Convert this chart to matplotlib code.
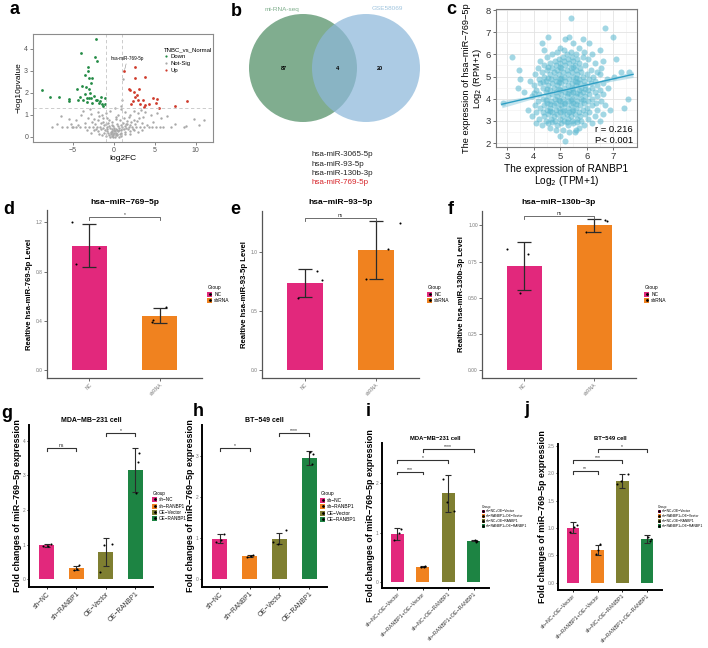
import matplotlib

matplotlib.use("Agg")
import matplotlib.pyplot as plt
import numpy as np
from matplotlib.lines import Line2D
from matplotlib.patches import Circle, Patch
from matplotlib.ticker import MultipleLocator

plt.rcParams["font.family"] = ["Liberation Sans", "DejaVu Sans"]

W, H = 708, 648

# ---------------- a: volcano ----------------
DOWN_X = [-2.24, -3.98, -2.33, -2.13, -3.2, -3.17, -3.54, -3.1, -2.7, -2.8, -4.55, -3.94,
          -3.4, -3.0, -8.74, -7.84, -6.67, -5.49, -5.45, -4.43, -3.74, -3.25, -3.0, -2.85,
          -2.44, -2.07, -1.71, -1.5, -1.13, -1.1, -1.58, -2.72, -3.33, -4.15, -3.54, -2.93,
          -2.24, -1.83, -1.34]
DOWN_Y = [4.45, 3.83, 3.62, 3.45, 3.19, 3.0, 2.82, 2.7, 2.67, 2.45, 2.17, 2.3, 2.25, 2.2,
          2.14, 1.8, 1.82, 1.65, 1.72, 1.7, 1.7, 1.76, 1.78, 1.79, 1.85, 1.68, 1.62, 1.5,
          1.5, 1.76, 1.81, 1.53, 1.6, 1.82, 1.95, 2.0, 1.7, 1.53, 1.4]
UP_X = [1.26, 2.56, 3.78, 2.56, 1.87, 1.95, 3.09, 2.48, 2.76, 2.56, 2.28, 2.97, 3.5, 4.72,
        5.3, 5.1, 4.28, 3.7, 3.78, 5.5, 7.4, 8.94, 2.02, 3.2]
UP_Y = [3.0, 3.2, 2.74, 2.7, 2.2, 2.13, 2.2, 2.05, 1.9, 1.8, 1.65, 1.7, 1.67, 1.78, 1.73,
        1.53, 1.5, 1.38, 1.45, 1.33, 1.4, 1.64, 1.48, 1.48]
NS_X = [-0.3, 0.1, 0.4, -0.6, 0.7, -0.1, 0.2, -0.4, 0.5, -0.8, 0.9, 0.0, -0.2, 0.3, -1.1,
        1.2, -0.5, 0.6, -1.4, 1.5, -0.9, 1.0, -1.7, 1.8, -2.1, 2.2, -2.6, 2.7, -3.0, 3.2,
        -3.5, 3.7, -4.2, 4.3, -5.0, 5.1, -6.3, 6.0, -7.6, 7.0, 8.5, -0.2, 0.4, -0.7, 1.1,
        -1.3, 1.6, -2.0, 2.4, -2.5, 3.0, -3.2, 3.6, -1.8, 2.0, -2.8, 2.9, -4.0, 4.5, -1.0,
        1.3, -0.5, 0.9, -3.8, 3.3, -6.5, -5.5, 5.8, 6.5, 9.8, 11.0, 10.4, 8.8, 7.5, -7.0,
        -5.2, -4.6, 4.8, 5.3, -1.5, 1.8, 0.2, 0.5, -0.8, 0.7, -0.3, 2.6, -2.3, 3.4, -3.6,
        4.0, -4.4, 0.1, 1.06, 0.94, 0.9, -1.5, 1.3, -1.0, 0.9, -0.5, 0.6, -0.1, 0.3, -0.7,
        0.8, -1.2, 1.4, -1.9, 1.9, -2.4, 2.5, -0.3, 0.4, -0.9, 1.0, -1.6, 1.7, -0.1, 0.5,
        -0.6, 1.3, -1.2, 2.0, -2.2, 2.3, -0.4, 0.2, -0.2, 0.0, 0.8, -1.0, 1.6, -1.6, 2.1,
        -2.7, 2.8, -0.6, 0.3, 1.2, -1.3, -2.0, 2.4, -2.9, 3.8, -3.3, 3.4, -2.8, 2.9, -1.8,
        1.9, -4.7, 4.7, -5.8, 5.6, -5.1, 0.0, 0.15, -0.15, 0.35, -0.35, 0.6, 1.5, -0.05]
NS_Y = [0.05, 0.02, 0.08, 0.1, 0.12, 0.15, 0.2, 0.22, 0.25, 0.28, 0.3, 0.3, 0.35, 0.38,
        0.33, 0.35, 0.4, 0.42, 0.42, 0.4, 0.45, 0.46, 0.45, 0.44, 0.47, 0.46, 0.45, 0.43,
        0.46, 0.45, 0.45, 0.47, 0.44, 0.45, 0.45, 0.46, 0.44, 0.45, 0.47, 0.44, 0.45, 0.55,
        0.6, 0.62, 0.65, 0.7, 0.72, 0.75, 0.78, 0.82, 0.85, 0.88, 0.9, 0.95, 1.0, 1.05, 1.1,
        1.0, 1.0, 1.1, 1.15, 1.2, 1.25, 1.2, 1.22, 0.95, 0.8, 0.85, 0.95, 0.8, 0.75, 0.55,
        0.5, 0.6, 0.6, 0.6, 0.75, 0.7, 1.1, 1.0, 0.9, 0.9, 1.0, 0.85, 0.75, 0.7, 0.6, 0.6,
        0.65, 0.62, 0.55, 0.55, 1.3, 2.65, 1.7, 1.4, 0.1, 0.12, 0.05, 0.05, 0.0, 0.0, 0.0,
        0.12, 0.18, 0.2, 0.2, 0.22, 0.25, 0.28, 0.3, 0.3, 0.28, 0.32, 0.36, 0.38, 0.38,
        0.36, 0.48, 0.5, 0.52, 0.52, 0.55, 0.55, 0.37, 0.36, 0.12, 0.1, 0.22, 0.4, 0.56,
        0.6, 0.6, 0.65, 0.68, 0.7, 0.72, 0.78, 0.8, 0.85, 0.88, 1.15, 1.2, 1.25, 1.15, 0.3,
        0.32, 0.2, 0.22, 0.12, 0.15, 0.47, 0.44, 0.46, 0.45, 0.45, 0.18, 0.26, 0.08, 0.14,
        0.2, 0.3, 0.58, 0.3]
MIR_LABEL = "hsa-miR-769-5p"

# ---------------- b: venn ----------------
VENN_SETS = ["mi-RNA-seq", "GSE58069"]
VENN_COUNTS = [87, 4, 20]
SHARED_MIRS = ["hsa-miR-3065-5p", "hsa-miR-93-5p", "hsa-miR-130b-3p", "hsa-miR-769-5p"]

# ---------------- c: correlation ----------------
COR_ROWS = [
    (2.1, [5.2]), (2.3, [5.0]), (2.5, [5.35, 5.55]), (2.6, [4.85, 5.1, 5.6]),
    (2.7, [5.7, 4.6]), (2.8, [4.3, 4.9, 5.3, 5.9]), (2.9, [4.1, 4.55, 5.05, 5.5, 6.2]),
    (3.0, [4.45, 4.8, 5.15, 5.45, 5.8, 6.5]), (3.1, [4.2, 4.65, 5.0, 5.3, 5.65, 6.05]),
    (3.2, [3.95, 4.4, 4.75, 5.1, 5.4, 5.75, 6.3]), (3.3, [4.55, 4.9, 5.25, 5.55, 5.95, 6.6]),
    (3.4, [4.1, 4.35, 4.7, 5.0, 5.35, 5.7, 6.1]),
    (3.5, [3.8, 4.5, 4.85, 5.15, 5.5, 5.85, 6.4, 6.9]),
    (3.6, [4.25, 4.6, 4.95, 5.3, 5.6, 6.0, 7.4]),
    (3.7, [4.05, 4.4, 4.75, 5.05, 5.4, 5.75, 6.2, 6.7]),
    (3.8, [2.85, 4.5, 4.85, 5.2, 5.5, 5.9, 6.35]),
    (3.9, [4.15, 4.65, 5.0, 5.3, 5.65, 6.05, 6.55]),
    (4.0, [4.35, 4.8, 5.1, 5.45, 5.8, 6.2, 7.55]),
    (4.1, [3.95, 4.55, 4.9, 5.25, 5.6, 5.95, 6.4]),
    (4.2, [4.2, 4.7, 5.05, 5.4, 5.75, 6.1, 6.6]),
    (4.3, [3.65, 4.45, 4.85, 5.2, 5.5, 5.85, 6.3]),
    (4.4, [4.1, 4.6, 5.0, 5.35, 5.7, 6.05, 6.5]),
    (4.5, [3.4, 4.35, 4.75, 5.15, 5.45, 5.8, 6.2, 6.8]),
    (4.6, [4.0, 4.55, 4.9, 5.3, 5.6, 5.95, 6.4]),
    (4.7, [4.25, 4.7, 5.05, 5.45, 5.75, 6.15, 6.6]),
    (4.8, [3.85, 4.45, 4.85, 5.2, 5.55, 5.9, 6.3]),
    (4.9, [3.5, 4.2, 4.65, 5.0, 5.35, 5.7, 6.1, 6.75]),
    (5.0, [4.4, 4.8, 5.15, 5.5, 5.85, 6.25, 7.05]),
    (5.1, [4.05, 4.6, 4.95, 5.3, 5.65, 6.0, 6.5]),
    (5.2, [4.3, 4.75, 5.1, 5.45, 5.8, 6.4, 7.3, 7.6]),
    (5.3, [3.45, 4.5, 4.9, 5.25, 5.6, 6.15]),
    (5.4, [4.15, 4.7, 5.05, 5.4, 5.75, 6.55]),
    (5.5, [4.4, 4.85, 5.2, 5.55, 5.95]), (5.6, [4.6, 5.0, 5.35, 5.7, 6.3]),
    (5.7, [4.25, 4.8, 5.15, 5.5, 6.6]), (5.8, [4.95, 5.3, 5.65, 6.05, 7.1]),
    (5.9, [3.2, 4.5, 5.1, 5.45, 5.85]), (6.0, [4.7, 5.25, 5.6, 6.2]),
    (6.1, [4.9, 5.4, 5.9]), (6.2, [4.4, 5.15, 6.5]), (6.3, [5.0, 5.7]),
    (6.5, [4.3, 5.5, 6.1]), (6.7, [5.2, 5.85]), (6.8, [4.55, 5.35, 7.0]),
    (7.2, [6.7]), (7.65, [5.4]),
    (2.95, [4.7, 5.25, 5.65]), (3.45, [4.6, 5.1, 5.45]), (3.95, [4.45, 4.95, 5.4, 5.85]),
    (4.45, [4.5, 4.95, 5.5, 5.95]), (4.95, [4.55, 5.05, 5.6]), (5.45, [4.55, 5.0, 5.5]),
    (4.25, [4.0, 5.3, 5.65]), (3.75, [4.6, 5.15, 5.6]), (4.75, [4.35, 4.95, 5.65]),
]
FIT_X = [2.8, 4.0, 5.2, 6.4, 7.75]
FIT_Y = [3.75, 4.08, 4.40, 4.73, 5.10]
FIT_SE = [0.16, 0.07, 0.03, 0.06, 0.14]
COR_R, COR_P = "0.216", "0.001"

# ---------------- d-f: miRNA qPCR ----------------
MIR_CATS = ["NC", "shRNA"]
D_MEAN, D_ERR = [1.01, 0.44], [0.175, 0.06]
D_PTS = [[1.20, 0.86, 0.99], [0.51, 0.39, 0.41]]
E_MEAN, E_ERR = [0.74, 1.02], [0.12, 0.245]
E_PTS = [[0.61, 0.84, 0.76], [0.77, 1.03, 1.25]]
F_MEAN, F_ERR = [0.72, 1.0], [0.165, 0.045]
F_PTS = [[0.84, 0.80, 0.535], [0.955, 1.04, 1.03]]

# ---------------- g-j: RANBP1 knockdown / overexpression ----------------
GH_CATS = ["sh\u2212NC", "sh\u2212RANBP1", "OE\u2212Vector", "OE\u2212RANBP1"]
G_MEAN, G_ERR = [0.98, 0.32, 0.78, 3.16], [0.04, 0.07, 0.40, 0.64]
G_PTS = [[0.95, 0.97, 1.02], [0.27, 0.29, 0.40], [0.20, 1.00, 1.02], [3.39, 3.65, 2.49]]
H_MEAN, H_ERR = [0.98, 0.56, 0.98, 2.95], [0.11, 0.02, 0.13, 0.17]
H_PTS = [[0.90, 0.95, 1.10], [0.54, 0.56, 0.58], [0.90, 0.85, 1.20], [2.80, 3.05, 3.10]]
IJ_CATS = ["sh\u2212NC+OE\u2212Vector", "sh\u2212RANBP1+OE\u2212Vector",
           "sh\u2212NC+OE\u2212RANBP1", "sh\u2212RANBP1+OE\u2212RANBP1"]
I_MEAN, I_ERR = [0.98, 0.31, 1.80, 0.84], [0.12, 0.01, 0.37, 0.01]
I_PTS = [[0.86, 1.00, 1.08], [0.30, 0.31, 0.32], [2.10, 1.62, 1.45], [0.82, 0.84, 0.86]]
J_MEAN, J_ERR = [1.00, 0.60, 1.86, 0.80], [0.10, 0.095, 0.13, 0.07]
J_PTS = [[0.92, 1.02, 1.06], [0.52, 0.60, 0.70], [1.80, 1.85, 1.98], [0.76, 0.80, 0.84]]

D_SIG = [(1, 2, 1.24, "*")]
E_SIG = [(1, 2, 1.29, "ns")]
F_SIG = [(1, 2, 1.065, "ns")]
G_SIG = [(1, 2, 3.8, "ns"), (3, 4, 4.23, "*")]
H_SIG = [(1, 2, 3.2, "*"), (3, 4, 3.56, "****")]
I_SIG = [(1, 2, 2.24, "***"), (1, 3, 2.47, "*"), (2, 4, 2.69, "****")]
J_SIG = [(1, 2, 2.04, "**"), (1, 3, 2.24, "***"), (2, 4, 2.43, "*")]

PINK, ORANGE, OLIVE, GREEN = "#e2287c", "#f0821f", "#7f7f31", "#1d8443"

fig = plt.figure(figsize=(W / 100, H / 100), dpi=100)


def box(l, t, r, b):
    return [l / W, 1 - b / H, (r - l) / W, (b - t) / H]


def ftext(x, y, s, **kw):
    fig.text(x / W, 1 - y / H, s, **kw)


for lab, (x, y) in zip("abcdefghij", [(15, 10), (236, 12), (451, 10), (9, 209), (235, 209),
                                      (451, 209), (7, 413), (198, 412), (368, 412), (527, 410)]):
    ftext(x, y, lab, fontsize=13, fontweight="bold", ha="center", va="center")

# --- a ---
ax = fig.add_axes(box(33, 34, 213, 142))
ax.scatter(NS_X, NS_Y, s=3, c="#a9a9a9", lw=0)
ax.scatter(DOWN_X, DOWN_Y, s=4, c="#238b45", lw=0)
ax.scatter(UP_X, UP_Y, s=4, c="#cf3a2b", lw=0)
for v in (-1, 1):
    ax.axvline(v, color="#c4c4c4", lw=0.6, ls=(0, (4, 3)))
ax.axhline(-np.log10(0.05), color="#c4c4c4", lw=0.6, ls=(0, (4, 3)))
ax.annotate(MIR_LABEL, xy=(UP_X[0], UP_Y[0]), xytext=(1.65, 3.45), fontsize=3.3,
            ha="center", va="bottom",
            arrowprops=dict(arrowstyle="-", color="#888888", lw=0.4, shrinkA=0, shrinkB=1))
ax.set_xlim(-9.9, 12.1)
ax.set_ylim(-0.23, 4.68)
ax.set_xticks([-5, 0, 5, 10])
ax.set_yticks([0, 1, 2, 3, 4])
ax.tick_params(labelsize=5, colors="#555555", length=2, width=0.5, pad=1.5)
for s in ax.spines.values():
    s.set_color("#8c8c8c")
    s.set_linewidth(0.8)
ax.set_xlabel("log2FC", fontsize=6, labelpad=1)
ax.set_ylabel("\u2212log10pvalue", fontsize=6, labelpad=1)
hd = [Line2D([], [], ls="", marker="o", ms=1.6, mew=0, color=c)
      for c in ("#238b45", "#a9a9a9", "#cf3a2b")]
ax.legend(hd, ["Down", "Not-Sig", "Up"], title="TNBC_vs_Normal", loc="upper left",
          bbox_to_anchor=(0.71, 0.9), fontsize=4.3, title_fontsize=4.3, frameon=False,
          handlelength=0.8, handletextpad=0.4, labelspacing=0.25, borderpad=0,
          alignment="left")

# --- b ---
ax = fig.add_axes(box(230, 0, 440, 200))
ax.set_xlim(230, 440)
ax.set_ylim(200, 0)
ax.axis("off")
ax.add_patch(Circle((303, 68), 54, facecolor="#5d9670", alpha=0.78, lw=0))
ax.add_patch(Circle((366, 68), 54, facecolor="#8db8da", alpha=0.72, lw=0))
ax.text(284, 68, str(VENN_COUNTS[0]), fontsize=4, fontweight="bold", ha="center", va="center")
ax.text(337, 68, str(VENN_COUNTS[1]), fontsize=4, fontweight="bold", ha="center", va="center")
ax.text(380, 68, str(VENN_COUNTS[2]), fontsize=4, fontweight="bold", ha="center", va="center")
ax.text(282, 9, VENN_SETS[0], fontsize=4.6, color="#7fae8c", ha="center", va="center")
ax.text(387, 9, VENN_SETS[1], fontsize=4.6, color="#9fc4de", ha="center", va="center")
for k, name in enumerate(SHARED_MIRS):
    ax.text(311, 155 + k * 9.2, name, fontsize=5.8, ha="left", va="center",
            color="#d7262b" if name == MIR_LABEL else "#222222")

# --- c ---
ax = fig.add_axes(box(496, 9, 637, 147))
cx = [x for y, xs in COR_ROWS for x in xs]
cy = [y for y, xs in COR_ROWS for x in xs]
ax.set_axisbelow(True)
ax.xaxis.set_minor_locator(MultipleLocator(0.5))
ax.yaxis.set_minor_locator(MultipleLocator(0.5))
ax.grid(which="major", color="#e3e3e3", lw=0.6)
ax.grid(which="minor", color="#f0f0f0", lw=0.4)
ax.tick_params(which="minor", length=0)
ax.scatter(cx, cy, s=19, c="#56b6cf", alpha=0.55, lw=0, zorder=2)
fy = np.array(FIT_Y)
fse = np.array(FIT_SE)
ax.fill_between(FIT_X, fy - fse, fy + fse, color="#9fd3e3", alpha=0.6, lw=0, zorder=3)
ax.plot(FIT_X, FIT_Y, color="#2f9fc4", lw=1, zorder=4)
ax.set_xlim(2.58, 7.9)
ax.set_ylim(1.82, 8.05)
ax.set_xticks([3, 4, 5, 6, 7])
ax.set_yticks([2, 3, 4, 5, 6, 7, 8])
ax.tick_params(labelsize=6.8, colors="#333333", length=2, width=0.5, pad=1.5)
for s in ax.spines.values():
    s.set_color("#7a7a7a")
    s.set_linewidth(0.8)
ax.text(0.97, 0.13, f"r = {COR_R}", transform=ax.transAxes, fontsize=6.8, ha="right", va="center")
ax.text(0.97, 0.045, f"P< {COR_P}", transform=ax.transAxes, fontsize=6.8, ha="right", va="center")
ax.set_xlabel("The expression of RANBP1\nLog$_2$ (TPM+1)", fontsize=7.3, labelpad=2,
              linespacing=1.0)
ax.set_ylabel("The expression of hsa\u2212miR\u2212769\u22125p\nLog$_2$ (RPM+1)", fontsize=6.7,
              labelpad=1, linespacing=1.0)


def bracket(ax, x1, x2, y, label, h, lw, fs, color):
    ax.plot([x1, x1, x2, x2], [y - h, y, y, y - h], color=color, lw=lw, zorder=5)
    ax.text((x1 + x2) / 2, y, label, fontsize=fs, ha="center", va="bottom", color="#222222")


def bar_panel(px, cats, means, errs, pts, jit, colors, ylim, yticks, ylabels, title, ty,
              ylabel, sigs, bold, legend_at, legend_fs):
    ax = fig.add_axes(box(*px))
    x = np.arange(1, len(cats) + 1)
    ax.bar(x, means, width=0.5, color=colors, zorder=2)
    ax.errorbar(x, means, yerr=errs, fmt="none", ecolor="#2b2b2b",
                elinewidth=0.9 if not bold else 0.8, capsize=5.2 if not bold else 2.4,
                capthick=0.9 if not bold else 0.8, zorder=3)
    for i, (vals, jj) in enumerate(zip(pts, jit)):
        ax.scatter(x[i] + np.array(jj), vals, s=2.2, c="black", lw=0, zorder=4)
    ax.set_xlim(0.4, len(cats) + 0.6)
    ax.set_ylim(*ylim)
    ax.set_yticks(yticks)
    ax.set_yticklabels(ylabels)
    ax.set_xticks(x)
    ax.set_xticklabels(cats, rotation=45, ha="right", rotation_mode="anchor")
    for s in ("top", "right"):
        ax.spines[s].set_visible(False)
    span = ylim[1] - ylim[0]
    long_names = len(cats[0]) > 8
    if bold:
        for s in ("left", "bottom"):
            ax.spines[s].set_linewidth(1.4)
            ax.spines[s].set_color("black")
        ax.tick_params(axis="y", labelsize=3.5, labelcolor="#777777", length=1.5, width=0.6,
                       pad=1)
        ax.tick_params(axis="x", labelsize=3.9 if long_names else 4.8, labelcolor="#333333",
                       length=1.5, width=0.6, pad=1)
        for x1, x2, y, lab in sigs:
            bracket(ax, x1, x2, y, lab, span * 0.018, 0.8, 3.6, "#333333")
    else:
        for s in ("left", "bottom"):
            ax.spines[s].set_linewidth(0.9)
            ax.spines[s].set_color("#555555")
        ax.tick_params(labelsize=3.5, labelcolor="#777777", colors="#555555", length=2,
                       width=0.6, pad=1)
        for x1, x2, y, lab in sigs:
            bracket(ax, x1, x2, y, lab, span * 0.018, 0.6, 3.5, "#555555")
    ax.set_ylabel(ylabel, fontsize=5.6 if not bold else 6.4,
                  fontweight="bold", labelpad=2 if not bold else 0.5)
    cxp = (px[0] + px[2]) / 2
    ftext(cxp, ty, title, fontsize=6 if not bold else (4.2 if long_names else 5),
          fontweight="bold", ha="center", va="center")
    hd = [(Patch(facecolor=c, lw=0), Line2D([], [], ls="", marker="o", ms=1, color="k"))
          for c in colors]
    fig.legend(hd, cats, title="Group", loc="upper left",
               bbox_to_anchor=(legend_at[0] / W, 1 - legend_at[1] / H),
               fontsize=legend_fs, title_fontsize=legend_fs, frameon=False,
               handlelength=1.0, handleheight=1.3, handletextpad=0.4, labelspacing=0.25,
               borderpad=0, alignment="left")
    return ax


J4 = [[-0.12, 0.05, 0.15], [-0.08, 0.03, 0.1], [-0.2, -0.05, 0.22], [0.1, 0.14, 0.04]]

bar_panel((47, 210, 202, 378), MIR_CATS, D_MEAN, D_ERR, D_PTS,
          [[-0.24, -0.19, 0.14], [0.09, -0.11, -0.1]],
          [PINK, ORANGE], (-0.065, 1.30), [0, 0.4, 0.8, 1.2], ["0.0", "0.4", "0.8", "1.2"],
          "hsa\u2212miR\u2212769\u22125p", 203, "Realtive hsa-miR-769-5p Level", D_SIG, False,
          (205, 283), 3.5)
bar_panel((262, 211, 419, 378), MIR_CATS, E_MEAN, E_ERR, E_PTS,
          [[-0.1, 0.17, 0.24], [-0.14, 0.17, 0.34]],
          [PINK, ORANGE], (-0.068, 1.35), [0, 0.5, 1.0], ["0.0", "0.5", "1.0"],
          "hsa\u2212miR\u221293\u22125p", 203, "Realtive hsa-miR-93-5p Level", E_SIG, False,
          (425, 283), 3.5)
bar_panel((482, 211, 636, 378), MIR_CATS, F_MEAN, F_ERR, F_PTS,
          [[-0.25, 0.06, -0.06], [-0.12, 0.15, 0.18]],
          [PINK, ORANGE], (-0.056, 1.10), [0, 0.25, 0.5, 0.75, 1.0],
          ["0.00", "0.25", "0.50", "0.75", "1.00"],
          "hsa\u2212miR\u2212130b\u22123p", 203, "Realtive hsa-miR-130b-3p Level", F_SIG, False,
          (642, 283), 3.5)

COLS4 = [PINK, ORANGE, OLIVE, GREEN]
YL = "Fold changes of miR\u2212769\u22125p expression"
bar_panel((29, 425, 153, 587), GH_CATS, G_MEAN, G_ERR, G_PTS, J4, COLS4, (-0.23, 4.46),
          [0, 1, 2, 3, 4], ["0", "1", "2", "3", "4"], "MDA\u2212MB\u2212231 cell", 421, YL,
          G_SIG, True, (150, 489), 3.3)
bar_panel((202, 425, 327, 587), GH_CATS, H_MEAN, H_ERR, H_PTS, J4, COLS4, (-0.2, 3.76),
          [0, 1, 2, 3], ["0", "1", "2", "3"], "BT\u2212549 cell", 421, YL,
          H_SIG, True, (318, 489), 3.5)
bar_panel((382, 443, 489, 588), IJ_CATS, I_MEAN, I_ERR, I_PTS, J4, COLS4, (-0.12, 2.82),
          [0, 1, 2], ["0", "1", "2"], "MDA\u2212MB\u2212231 cell", 438, YL,
          I_SIG, True, (480, 503), 2.4)
bar_panel((558, 444, 662, 590), IJ_CATS, J_MEAN, J_ERR, J_PTS, J4, COLS4, (-0.13, 2.53),
          [0, 0.5, 1, 1.5, 2, 2.5], ["0.0", "0.5", "1.0", "1.5", "2.0", "2.5"],
          "BT\u2212549 cell", 438, YL, J_SIG, True, (656, 503), 2.4)

fig.savefig("out.png", dpi=100, facecolor="white")
